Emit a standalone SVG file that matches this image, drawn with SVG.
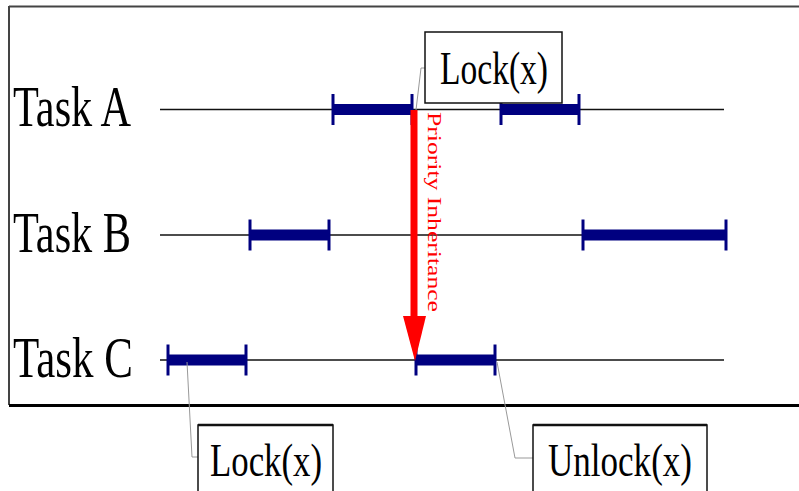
<svg xmlns="http://www.w3.org/2000/svg" width="799" height="491" viewBox="0 0 799 491">
<style>
.lbl{font-family:"Liberation Serif","Times New Roman",serif;fill:#000}
.task{font-size:57px}
.box{fill:#fff;stroke:#111;stroke-width:1.5}
.tl{stroke:#111;stroke-width:1.5}
.bar{stroke:#000080;stroke-width:11}
.tick{stroke:#000080;stroke-width:3}
.lead{fill:none;stroke:#999;stroke-width:1}
</style>
<g id="frame">
<line x1="9" y1="6.5" x2="799" y2="6.5" stroke="#444" stroke-width="2"/>
<line x1="9" y1="6" x2="9" y2="405" stroke="#444" stroke-width="2"/>
<line x1="9" y1="405.5" x2="799" y2="405.5" stroke="#000" stroke-width="3"/>
</g>
<g id="taskA">
<text class="lbl task" x="13" y="126" textLength="118" lengthAdjust="spacingAndGlyphs">Task A</text>
<line class="tl" x1="160" y1="109.5" x2="724" y2="109.5"/>
<line class="bar" x1="333" y1="109.5" x2="412" y2="109.5"/>
<line class="tick" x1="333" y1="94" x2="333" y2="125"/>
<line class="tick" x1="412" y1="94" x2="412" y2="125"/>
<line class="bar" x1="501" y1="109.5" x2="579" y2="109.5"/>
<line class="tick" x1="501" y1="94" x2="501" y2="125"/>
<line class="tick" x1="579" y1="94" x2="579" y2="125"/>
</g>
<g id="taskB">
<text class="lbl task" x="13" y="252" textLength="118" lengthAdjust="spacingAndGlyphs">Task B</text>
<line class="tl" x1="160" y1="235" x2="583" y2="235"/>
<line class="bar" x1="250" y1="235" x2="329" y2="235"/>
<line class="tick" x1="250" y1="219.5" x2="250" y2="250.5"/>
<line class="tick" x1="329" y1="219.5" x2="329" y2="250.5"/>
<line class="bar" x1="583" y1="235" x2="726" y2="235"/>
<line class="tick" x1="583" y1="219.5" x2="583" y2="250.5"/>
<line class="tick" x1="726" y1="219.5" x2="726" y2="250.5"/>
</g>
<g id="taskC">
<text class="lbl task" x="13" y="377" textLength="120" lengthAdjust="spacingAndGlyphs">Task C</text>
<line class="tl" x1="160" y1="360" x2="724" y2="360"/>
<line class="bar" x1="168" y1="360" x2="246" y2="360"/>
<line class="tick" x1="168" y1="344.5" x2="168" y2="375.5"/>
<line class="tick" x1="246" y1="344.5" x2="246" y2="375.5"/>
<line class="bar" x1="416" y1="360" x2="495" y2="360"/>
<line class="tick" x1="416" y1="344.5" x2="416" y2="375.5"/>
<line class="tick" x1="495" y1="344.5" x2="495" y2="375.5"/>
</g>
<g id="connectors">
<polyline class="lead" points="416,110 421,68 425,68"/>
<polyline class="lead" points="187,362 192,457 198,457"/>
<polyline class="lead" points="497,362 515,458 533,458"/>
<line x1="414" y1="110" x2="414" y2="318" stroke="#f00" stroke-width="7"/>
<polygon points="403,316 426,316 415,361" fill="#f00"/>
<text class="lbl" x="0" y="0" font-size="18" style="fill:#f00" transform="translate(428,112) rotate(90)" textLength="200" lengthAdjust="spacingAndGlyphs">Priority Inheritance</text>
</g>
<g id="lockTop">
<rect class="box" x="425" y="32" width="137" height="71"/>
<text class="lbl" x="440" y="84" font-size="47" textLength="108" lengthAdjust="spacingAndGlyphs">Lock(x)</text>
</g>
<g id="lockBottom">
<rect class="box" x="198" y="425" width="135" height="80"/>
<line x1="198" y1="425" x2="333" y2="425" stroke="#111" stroke-width="2.5"/>
<text class="lbl" x="210" y="476" font-size="47" textLength="112" lengthAdjust="spacingAndGlyphs">Lock(x)</text>
</g>
<g id="unlockBottom">
<rect class="box" x="533" y="425" width="174" height="80"/>
<line x1="533" y1="425" x2="707" y2="425" stroke="#111" stroke-width="2.5"/>
<text class="lbl" x="548" y="476" font-size="47" textLength="144" lengthAdjust="spacingAndGlyphs">Unlock(x)</text>
</g>
</svg>
